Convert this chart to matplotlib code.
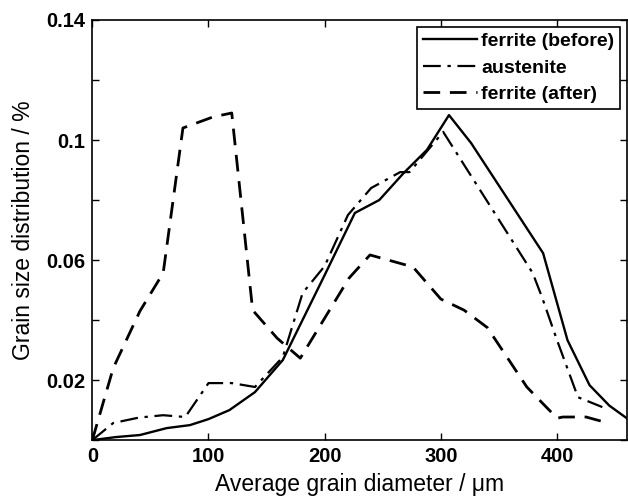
import numpy as np
import matplotlib.pyplot as plt

plt.rcParams['font.family'] = ['Liberation Sans', 'DejaVu Sans']

# ferrite before transformation
x_before = [0, 20, 41, 64, 84, 100, 118, 140, 164, 200, 226, 247, 268, 288,
            307, 326, 388, 409, 428, 445, 460]
y_before = [0.0, 0.001, 0.0017, 0.004, 0.005, 0.007, 0.010, 0.016, 0.0267,
            0.055, 0.0757, 0.080, 0.089, 0.0967, 0.1083, 0.099, 0.0623,
            0.0333, 0.0183, 0.0115, 0.0073]

# austenite
x_aus = [0, 18, 40, 61, 80, 100, 120, 140, 164, 181, 200, 220, 240, 265,
         273, 302, 379, 387, 400, 418, 439]
y_aus = [0.0, 0.0057, 0.0075, 0.0083, 0.0077, 0.019, 0.019, 0.0177, 0.0277,
         0.049, 0.058, 0.075, 0.084, 0.0893, 0.0893, 0.1027, 0.0557, 0.0477,
         0.0333, 0.0143, 0.011]

# ferrite after transformation
x_after = [0, 18, 41, 61, 78, 104, 120, 138, 159, 179, 221, 239, 276, 300,
           320, 340, 374, 400, 405, 425, 441]
y_after = [0.0, 0.024, 0.043, 0.0557, 0.104, 0.1077, 0.109, 0.0433, 0.034,
           0.0273, 0.054, 0.0617, 0.0577, 0.047, 0.0433, 0.0375, 0.0177,
           0.0073, 0.0077, 0.0077, 0.006]

fig = plt.figure(figsize=(6.28, 4.99), dpi=100)
ax = fig.add_axes([0.147, 0.118, 0.851, 0.842])

ax.plot(x_before, y_before, 'k-', lw=1.7, label='ferrite (before)')
ax.plot(x_aus, y_aus, color='k', lw=1.6, dashes=(8, 3, 1.5, 3),
        label='austenite')
ax.plot(x_after, y_after, color='k', lw=2.0, dashes=(6, 3.5),
        label='ferrite (after)')

ax.set_xlim(0, 460)
ax.set_ylim(0, 0.14)
ax.set_xticks([0, 100, 200, 300, 400])
ax.set_yticks(np.arange(0, 0.141, 0.02))
ax.set_yticklabels(['', '0.02', '', '0.06', '', '0.1', '', '0.14'])
ax.tick_params(direction='in', top=True, right=True, length=5,
               labelsize=14.5, width=1, pad=5)
for lbl in ax.get_xticklabels() + ax.get_yticklabels():
    lbl.set_fontweight('bold')
for sp in ax.spines.values():
    sp.set_linewidth(1.2)

ax.set_xlabel('Average grain diameter / \u03bcm', fontsize=16.5, labelpad=5)
ax.set_ylabel('Grain size distribution / %', fontsize=16.5, labelpad=8)

leg = ax.legend(loc='upper right', fancybox=False, framealpha=1,
                edgecolor='k', prop={'weight': 'bold', 'size': 14},
                handlelength=2.8, handletextpad=0.2, borderpad=0.3,
                labelspacing=0.45, borderaxespad=0.35)
leg.get_frame().set_linewidth(1.2)

fig.savefig('out.png', dpi=100)
